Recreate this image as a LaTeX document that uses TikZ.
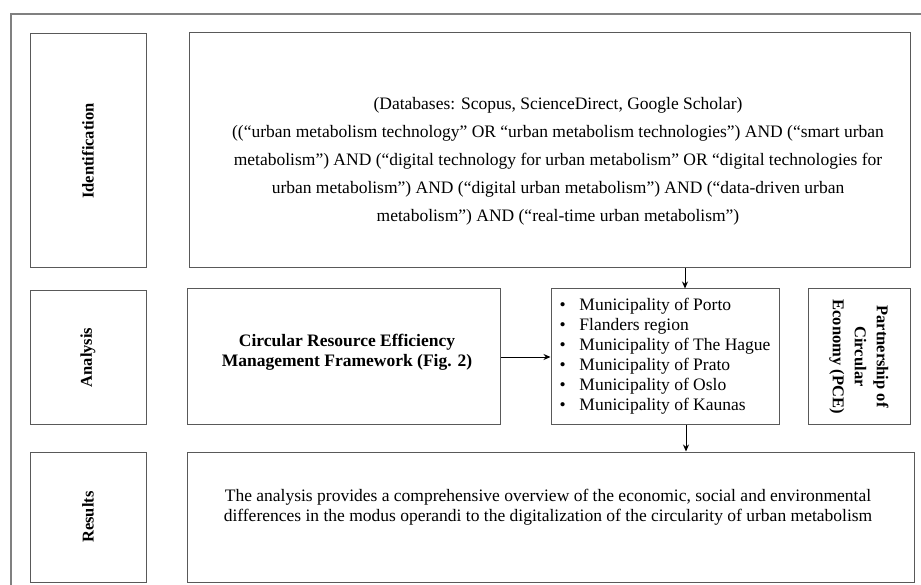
\documentclass[tikz,border=0pt]{standalone}
\usepackage{fontspec}
\setmainfont{Liberation Serif}
\usetikzlibrary{arrows.meta}

\tikzset{
    box/.style = {draw=black!65, line width=1pt, rectangle, inner sep=0pt},
    stage/.style = {box, rotate=90, font={\fontsize{16.5}{20}\selectfont\bfseries}},
    body/.style = {font={\fontsize{17.5}{20}\selectfont}, align=center, inner sep=0pt},
    flow/.style = {-{Stealth[length=7pt,width=6pt]}, line width=1pt, black}
}

\begin{document}
\begin{tikzpicture}[x=1pt, y=-1pt]
        \useasboundingbox (0, 0) rectangle (921, 585);

        % outer frame, only top and left edges show
        \draw[black!50, line width=1.2pt] (921, 14) -- (11, 14) -- (11, 585);

        % stage labels on the left
        \node[stage, minimum width=234, minimum height=116] (ident) at (88, 151) {Identification};
        \node[stage, minimum width=133, minimum height=116] (anal) at (88, 357.5) {Analysis};
        \node[stage, minimum width=130, minimum height=116] (resl) at (88, 517) {Results};

        % identification
        \node[box, minimum width=721, minimum height=235] (search) at (549.5, 150.5) {};
        \node[body, font={\fontsize{17.5}{28}\selectfont}] (query) at (558, 161) {(Databases: Scopus, ScienceDirect, Google Scholar)\\
            ((“urban metabolism technology” OR “urban metabolism technologies”) AND (“smart urban\\
            metabolism”) AND (“digital technology for urban metabolism” OR “digital technologies for\\
            urban metabolism”) AND (“digital urban metabolism”) AND (“data-driven urban\\
            metabolism”) AND (“real-time urban metabolism”)};

        % analysis
        \node[box, minimum width=313, minimum height=135] (crf) at (344, 356.5) {};
        \node[body, font={\fontsize{17.5}{20}\selectfont\bfseries}] (crftext) at (347, 352) {Circular Resource Efficiency\\Management Framework (Fig. 2)};

        \node[box, body, align=left, minimum width=228, minimum height=135] (muni) at (665, 356.5) {%
            \makebox[20pt][l]{•}Municipality of Porto\\
            \makebox[20pt][l]{•}Flanders region\\
            \makebox[20pt][l]{•}Municipality of The Hague\\
            \makebox[20pt][l]{•}Municipality of Prato\\
            \makebox[20pt][l]{•}Municipality of Oslo\\
            \makebox[20pt][l]{•}Municipality of Kaunas};

        \node[box, rotate=-90, align=center, minimum width=135, minimum height=102,
              font={\fontsize{16.5}{22}\selectfont\bfseries}] (pce) at (859, 356.5) {Partnership of\\Circular\\Economy (PCE)};

        % results
        \node[box, minimum width=727, minimum height=130] (result) at (550.5, 517) {};
        \node[body] (resulttext) at (548, 507) {The analysis provides a comprehensive overview of the economic, social and environmental\\
            differences in the modus operandi to the digitalization of the circularity of urban metabolism};

        % connectors
        \draw[flow] (search.south -| 685, 0) -- (muni.north -| 685, 0);
        \draw[flow] (crf.east |- 0, 357) -- (muni.west |- 0, 357);
        \draw[flow] (muni.south -| 686, 0) -- (result.north -| 686, 0);
\end{tikzpicture}
\end{document}
